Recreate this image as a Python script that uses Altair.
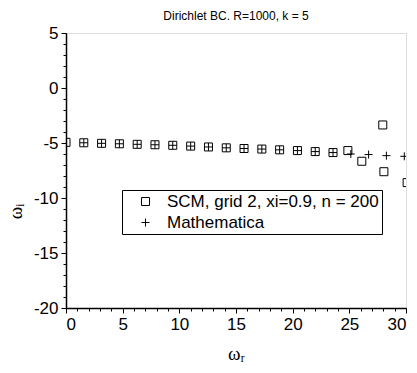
import altair as alt
import pandas as pd

# SCM, grid 2, xi=0.9, n = 200 (squares)
scm_x = [0.0, 1.57, 3.14, 4.71, 6.28, 7.85, 9.42, 11.0, 12.57, 14.14, 15.71,
         17.28, 18.85, 20.42, 21.99, 23.56, 24.87, 26.1, 27.95, 28.05, 30.1]
scm_y = [-4.94, -4.98, -5.03, -5.07, -5.12, -5.16, -5.21, -5.28, -5.36, -5.44, -5.5,
         -5.55, -5.62, -5.69, -5.78, -5.87, -5.69, -6.66, -3.36, -7.61, -8.6]

# Mathematica (plus signs)
mat_x = [1.57, 3.14, 4.71, 6.28, 7.85, 9.42, 11.0, 12.57, 14.14, 15.71,
         17.28, 18.85, 20.42, 21.99, 23.56, 25.13, 26.7, 28.27, 29.85]
mat_y = [-4.98, -5.03, -5.07, -5.12, -5.16, -5.21, -5.28, -5.36, -5.44, -5.5,
         -5.55, -5.62, -5.69, -5.78, -5.87, -6.0, -6.05, -6.15, -6.21]

series_names = ["SCM, grid 2, xi=0.9, n = 200", "Mathematica"]
x_major = [0, 5, 10, 15, 20, 25, 30]
y_major = [-20, -15, -10, -5, 0, 5]
x_minor = list(range(0, 31))
y_minor = list(range(-20, 6))

df = pd.DataFrame({
    "wr": scm_x + mat_x,
    "wi": scm_y + mat_y,
    "series": [series_names[0]] * len(scm_x) + [series_names[1]] * len(mat_x),
})

xscale = alt.Scale(domain=[0, 30], nice=False, zero=False)
yscale = alt.Scale(domain=[-20, 5], nice=False, zero=False)

plus_path = "M-1,0H1M0,-1V1"
hyphen_labels = "datum.value + ''"

points = alt.Chart(df).mark_point(filled=False, clip=True, strokeWidth=1, color="black",
                                  opacity=1, size=64).encode(
    x=alt.X("wr:Q", scale=xscale,
            axis=alt.Axis(values=x_major, title="ωᵣ", orient="bottom", tickSize=5, tickWidth=1,
                          labelFontSize=17, labelFont="Liberation Sans", labelColor="black",
                          labelExpr=hyphen_labels,
                          labelPadding=3, titleFont="Liberation Serif", titleFontSize=19,
                          titleFontWeight="normal", titleColor="black", titlePadding=12,
                          domainColor="black", domainWidth=1.5, tickColor="black", grid=False)),
    y=alt.Y("wi:Q", scale=yscale,
            axis=alt.Axis(values=y_major, title="ωᵢ", orient="left", tickSize=5, tickWidth=1,
                          labelFontSize=17, labelFont="Liberation Sans", labelColor="black",
                          labelExpr=hyphen_labels,
                          labelPadding=3, titleFont="Liberation Serif", titleFontSize=19,
                          titleFontWeight="normal", titleColor="black", titlePadding=8,
                          titleY=178,
                          domainColor="black", domainWidth=1.5, tickColor="black", grid=False)),
    shape=alt.Shape("series:N",
                    scale=alt.Scale(domain=series_names, range=["square", plus_path]),
                    legend=alt.Legend(title=None, orient="none", legendX=56, legendY=157,
                                      strokeColor="black", fillColor="white", padding=3,
                                      labelFontSize=17, labelFont="Liberation Sans",
                                      labelColor="black", labelLimit=0,
                                      symbolStrokeColor="black",
                                      symbolFillColor="transparent", symbolStrokeWidth=1,
                                      symbolSize=64, symbolOffset=12, labelOffset=13,
                                      rowPadding=3, cornerRadius=0)),
)

minor = alt.Chart(df).mark_point(opacity=0).encode(
    x=alt.X("wr:Q", scale=xscale,
            axis=alt.Axis(values=x_minor, labels=False, title=None, orient="bottom", tickSize=3,
                          tickColor="black", tickWidth=1, domain=False, grid=False)),
    y=alt.Y("wi:Q", scale=yscale,
            axis=alt.Axis(values=y_minor, labels=False, title=None, orient="left", tickSize=3,
                          tickColor="black", tickWidth=1, domain=False, grid=False)),
)

chart = alt.layer(points, minor).resolve_axis(x="independent", y="independent").properties(
    width=340, height=275,
    title=alt.TitleParams("Dirichlet BC. R=1000, k = 5", fontSize=12, fontWeight="normal",
                          font="Liberation Sans", color="black", offset=1),
    autosize=alt.AutoSizeParams(type="none"),
    padding={"left": 66, "top": 33, "right": 11, "bottom": 65},
).configure_view(stroke="black", strokeWidth=1).configure(background="white")

chart.save("out.html", embed_options={"renderer": "svg", "actions": False})
